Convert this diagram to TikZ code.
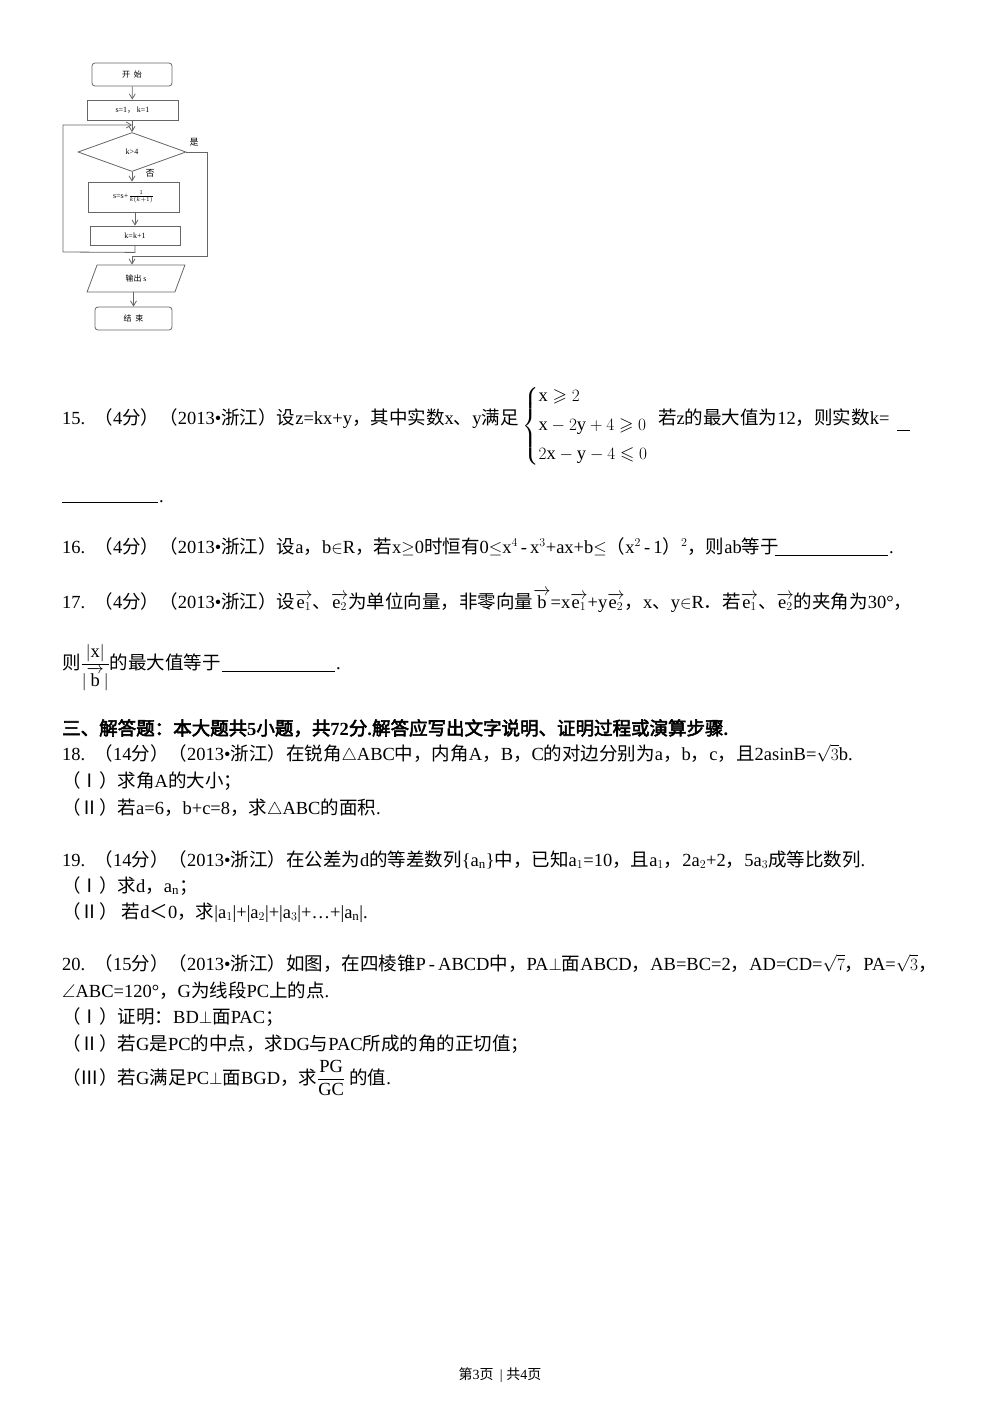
\documentclass[tikz,border=0pt]{standalone}
\usepackage{amsmath,amssymb}
\usepackage{fontspec}
\setmainfont{Liberation Serif}
\newfontfamily\cjk{Noto Sans CJK SC}[AutoFakeBold=3]
\usetikzlibrary{shapes.geometric,arrows.meta}
\XeTeXinterchartokenstate=1
\newXeTeXintercharclass\cjkcls
\newcount\cc
\def\setcls#1#2{\cc=#1 \loop \XeTeXcharclass\cc=\cjkcls \ifnum\cc<#2 \advance\cc 1 \repeat}
\setcls{"4E00}{"9FFF}
\setcls{"3000}{"303F}
\setcls{"FF00}{"FFEF}
\setcls{"2160}{"216F}
\XeTeXinterchartoks 0 \cjkcls = {\cjk}
\XeTeXinterchartoks 4095 \cjkcls = {\cjk}
\XeTeXinterchartoks \cjkcls 0 = {\rmfamily}
\XeTeXinterchartoks 4095 0 = {\rmfamily}
\newcommand{\ve}[1]{\overrightarrow{\mathrm{e}_{#1}}}
\tikzset{
 txt/.style={anchor=base west,inner sep=0pt,font=\fontsize{18.5}{21}\selectfont},
 fl/.style={draw=black!60,line width=0.8pt,fill=white,font=\fontsize{8}{9}\selectfont,inner sep=0pt},
 fa/.style={draw=black!60,line width=0.8pt,-{Straight Barb[length=5pt,width=6pt]}},
 fln/.style={draw=black!60,line width=0.8pt},
 blank/.style={line width=0.8pt}
}
\begin{document}
\begin{tikzpicture}[x=1pt,y=-1pt]
\useasboundingbox (0,0) rectangle (1000,1414);
% flowchart
\node[fl,rounded corners=3pt,minimum width=80pt,minimum height=23pt] (st) at (132,74.5) {开\ \ 始};
\node[fl,minimum width=91pt,minimum height=20pt] (init) at (132.5,110) {s=1，\ k=1};
\node[fl,diamond,aspect=2.7,minimum width=108pt,minimum height=39pt] (dec) at (132,152) {k>4};
\node[fl,minimum width=91pt,minimum height=30pt] (upd) at (133.5,197) {s=s+$\frac{1}{k(k+1)}$};
\node[fl,minimum width=90pt,minimum height=19pt] (inc) at (135,235.5) {k=k+1};
\node[fl,trapezium,trapezium left angle=70,trapezium right angle=110,minimum width=98pt,minimum height=27pt,trapezium stretches=true] (out) at (136,278.5) {输出 s};
\node[fl,rounded corners=3pt,minimum width=77pt,minimum height=23pt] (end) at (133.5,318.5) {结\ \ 束};
\coordinate (j1) at (132,125);
\coordinate (j2) at (132,256);
\draw[fa] (st) -- (init);
\draw[fln] (init.south -| j1) -- (j1);
\draw[fa] (j1) -- (dec.north);
\draw[fa] (dec.south) -- (upd.north -| dec.south);
\draw[fa] (upd.south -| inc.north) -- (inc.north);
\draw[fa] (inc.south) -- ++(0,7) -- (63,252) -- (63,125) -- (j1);
\draw[fln] (dec.east) -- (207,152) -- (207,256) -- (j2);
\draw[fa] (j2) -- (out.north -| j2);
\draw[fa] (out.south -| end.north) -- (end.north);
\node[font=\fontsize{9}{10}\selectfont,inner sep=0pt] (yes) at (194,142) {是};
\node[font=\fontsize{9}{10}\selectfont,inner sep=0pt] (no) at (150,173) {否};
% Q15
\node[txt] (q15) at (62,424) {15.\ \ （4分）（2013•浙江）设z=kx+y，其中实数x、y满足};
\node[anchor=west,inner sep=0pt,font=\fontsize{18.5}{21}\selectfont] (sys) at (522,426) {$\left\{\begin{array}{@{}l@{}}\mathrm{x}\geqslant2\\[8pt]\mathrm{x}-2\mathrm{y}+4\geqslant0\\[8pt]2\mathrm{x}-\mathrm{y}-4\leqslant0\end{array}\right.$};
\node[txt] (q15b) at (658,424) {若z的最大值为12，则实数k=};
\draw[blank] (897,430) -- (910,430);
\draw[blank] (62,502) -- (158,502);
\node[txt] (q15c) at (159,502) {.};
% Q16
\node[txt] (q16) at (62,553) {16.\ \ （4分）（2013•浙江）设a，b$\in$R，若x$\geq$0时恒有0$\leq$x$^4$\,-\,x$^3$+ax+b$\leq$（x$^2$\,-\,1）$^2$，则ab等于};
\draw[blank] (775,555) -- (888,555);
\node[txt] (q16b) at (889,553) {.};
% Q17
\node[txt] (q17) at (62,608) {17.\ \ （4分）（2013•浙江）设$\ve1$、$\ve2$为单位向量，非零向量$\overrightarrow{\mathrm{b}}$=x$\ve1$+y$\ve2$，x、y$\in$R．若$\ve1$、$\ve2$的夹角为30°，};
\node[txt] (q17b) at (62,669) {则$\dfrac{|\mathrm{x}|}{|\overrightarrow{\mathrm{b}}|}$的最大值等于};
\draw[blank] (222,671) -- (335,671);
\node[txt] (q17c) at (336,669) {.};
% heading
\node[txt,font=\fontsize{18.5}{21}\selectfont\bfseries] (h) at (62,735) {三、解答题：本大题共5小题，共72分.解答应写出文字说明、证明过程或演算步骤.};
% Q18
\node[txt] (q18) at (62,760) {18.\ \ （14分）（2013•浙江）在锐角$\triangle$ABC中，内角A，B，C的对边分别为a，b，c，且2asinB=$\sqrt{3}$b.};
\node[txt] (q18a) at (62,787) {（Ⅰ）求角A的大小；};
\node[txt] (q18b) at (62,814) {（Ⅱ）若a=6，b+c=8，求$\triangle$ABC的面积.};
% Q19
\node[txt] (q19) at (62,866) {19.\ \ （14分）（2013•浙江）在公差为d的等差数列\{a$_\mathrm{n}$\}中，已知a$_1$=10，且a$_1$，2a$_2$+2，5a$_3$成等比数列.};
\node[txt] (q19a) at (62,892) {（Ⅰ）求d，a$_\mathrm{n}$；};
\node[txt] (q19b) at (62,918) {（Ⅱ）\ 若d＜0，求|a$_1$|+|a$_2$|+|a$_3$|+…+|a$_\mathrm{n}$|.};
% Q20
\node[txt] (q20) at (62,970) {20.\ \ （15分）（2013•浙江）如图，在四棱锥P\,-\,ABCD中，PA$\perp$面ABCD，AB=BC=2，AD=CD=$\sqrt{7}$，PA=$\sqrt{3}$，};
\node[txt] (q20x) at (62,997) {$\angle$ABC=120°，G为线段PC上的点.};
\node[txt] (q20a) at (62,1023) {（Ⅰ）证明：BD$\perp$面PAC；};
\node[txt] (q20b) at (62,1050) {（Ⅱ）若G是PC的中点，求DG与PAC所成的角的正切值；};
\node[txt] (q20c) at (62,1084) {（Ⅲ）若G满足PC$\perp$面BGD，求$\dfrac{\mathrm{PG}}{\mathrm{GC}}$\ 的值.};
% footer
\node[font=\fontsize{14}{16}\selectfont,inner sep=0pt] (ft) at (500,1375) {第3页\ \ |\ 共4页};
\end{tikzpicture}
\end{document}
